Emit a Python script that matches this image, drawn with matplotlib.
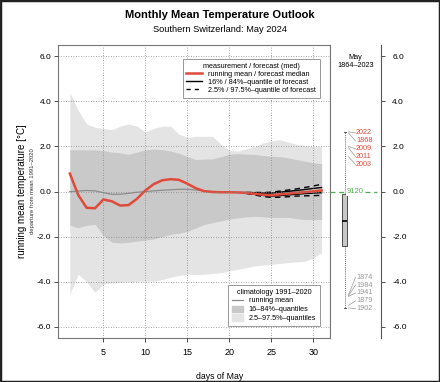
import numpy as np
import matplotlib.pyplot as plt
from matplotlib.patches import Rectangle
from matplotlib.lines import Line2D
from matplotlib.patches import Patch

plt.rcParams['font.family'] = ['Liberation Sans', 'DejaVu Sans']

days = np.arange(1, 32)

# climatology 1991-2020 (departure from mean)
clim_q975 = [4.4, 3.6, 3.0, 2.85, 2.8, 2.75, 2.9, 3.0, 2.9, 2.65, 2.8, 2.9, 2.9, 2.55, 2.4, 2.45,
             2.45, 2.45, 2.1, 1.85, 1.8, 1.9, 2.0, 2.15, 2.25, 2.3, 2.2, 2.1, 2.05, 2.0, 2.0]
clim_q84 = [1.86, 1.86, 1.85, 1.85, 1.82, 1.75, 1.72, 1.65, 1.75, 1.85, 1.88, 1.86, 1.8, 1.7, 1.55, 1.42,
            1.44, 1.45, 1.55, 1.66, 1.68, 1.66, 1.65, 1.6, 1.57, 1.55, 1.5, 1.42, 1.35, 1.28, 1.24]
clim_q16 = [-1.5, -1.6, -1.5, -1.45, -1.95, -2.25, -2.28, -2.25, -2.2, -2.15, -2.1, -2.0, -1.9, -1.85, -1.77, -1.62,
            -1.46, -1.38, -1.3, -1.22, -1.17, -1.12, -1.1, -1.12, -1.15, -1.15, -1.15, -1.2, -1.24, -1.24, -1.24]
clim_q025 = [-4.55, -3.67, -4.0, -4.47, -4.1, -4.05, -4.03, -4.0, -3.98, -3.98, -3.98, -3.9, -3.8, -3.72, -3.67, -3.67,
             -3.67, -3.63, -3.6, -3.52, -3.45, -3.38, -3.3, -3.26, -3.23, -3.19, -3.15, -3.12, -3.1, -2.95, -2.7]
clim_mean = [0.0, 0.02, 0.05, 0.03, -0.05, -0.12, -0.12, -0.08, -0.03, 0.0, 0.03, 0.06, 0.08, 0.1, 0.1, 0.07,
             0.03, 0.0, -0.02, -0.03, -0.03, -0.03, -0.04, -0.05, -0.05, -0.04, -0.03, -0.02, -0.01, 0.0, 0.0]

# running mean / forecast median
run_mean = [0.8, -0.15, -0.72, -0.74, -0.35, -0.43, -0.62, -0.6, -0.32, 0.05, 0.33, 0.5, 0.55, 0.52, 0.35, 0.15,
            0.02, -0.02, -0.03, -0.03, -0.04, -0.06, -0.1, -0.14, -0.16, -0.13, -0.09, -0.06, -0.03, 0.01, 0.05]

# forecast quantiles
fc_days = np.arange(22, 32)
fc_q975 = [-0.04, -0.04, -0.04, -0.03, 0.02, 0.07, 0.12, 0.18, 0.25, 0.32]
fc_q84 = [-0.05, -0.06, -0.07, -0.07, -0.03, 0.01, 0.05, 0.09, 0.14, 0.18]
fc_q16 = [-0.07, -0.12, -0.17, -0.2, -0.18, -0.15, -0.12, -0.09, -0.07, -0.05]
fc_q025 = [-0.08, -0.15, -0.22, -0.26, -0.25, -0.23, -0.2, -0.19, -0.18, -0.17]

# May 1864-2023 distribution
box_stats = dict(med=-1.32, q1=-2.42, q3=-0.09, whislo=-5.16, whishi=2.65)
warm_years = ['2022', '1868', '2009', '2011', '2003']
warm_vals = [2.65, 2.6, 2.0, 1.95, 1.55]
cold_years = ['1874', '1984', '1941', '1879', '1902']
cold_vals = [-4.6, -4.62, -4.65, -5.05, -5.16]
current_label = '9120'

red = '#df4a3b'
light = '#e4e4e4'
dark = '#c9c9c9'
yticks = [-6, -4, -2, 0, 2, 4, 6]

fig = plt.figure(figsize=(4.4, 3.82), dpi=100)
fig.patches.append(Rectangle((0, 0), 1, 1, transform=fig.transFigure, fill=False,
                             edgecolor='#222222', linewidth=2.5))

ax = fig.add_axes([0.132, 0.115, 0.618, 0.767])
ax.fill_between(days, clim_q025, clim_q975, color=light, lw=0)
ax.fill_between(days, clim_q16, clim_q84, color=dark, lw=0)
ax.plot(days, clim_mean, color='#8c8c8c', lw=0.9)
ax.plot(fc_days, fc_q975, color='black', lw=1.0, ls=(0, (4, 3)))
ax.plot(fc_days, fc_q025, color='black', lw=1.0, ls=(0, (4, 3)))
ax.plot(fc_days, fc_q84, color='black', lw=1.0)
ax.plot(fc_days, fc_q16, color='black', lw=1.0)
ax.plot(days, run_mean, color=red, lw=1.8)

ax.set_xlim(-0.4, 32)
ax.set_ylim(-6.5, 6.5)
ax.set_xticks([5, 10, 15, 20, 25, 30])
ax.set_yticks(yticks)
ax.set_yticklabels(['%.1f' % v for v in yticks])
ax.grid(True, color='#888888', ls=(0, (1, 2)), lw=0.6)
ax.set_axisbelow(False)
for s in ax.spines.values():
    s.set_color('#777777')
    s.set_linewidth(0.8)
ax.tick_params(labelsize=6, length=3, width=0.6, color='#333333', pad=2)
ax.tick_params(axis='x', labelsize=6.5, pad=4)
ax.set_xlabel('days of May', fontsize=6.3)
ax.xaxis.set_label_coords(0.595, -0.115)
ax.set_ylabel('running mean temperature [°C]', fontsize=7, labelpad=7)
fig.text(0.073, 0.5, 'departure from mean 1991–2020', rotation=90, fontsize=4.2,
         ha='center', va='center', color='#333333')

leg1 = ax.legend(handles=[Line2D([], [], color=red, lw=1.8),
                          Line2D([], [], color='black', lw=1.0),
                          Line2D([], [], color='black', lw=1.0, ls=(0, (3, 3)))],
                 labels=['running mean / forecast median', '16% / 84%–quantile of forecast',
                         '2.5% / 97.5%–quantile of forecast'],
                 title='measurement / forecast (med)', loc='upper right',
                 bbox_to_anchor=(0.975, 0.965), fontsize=5.2, title_fontsize=5.2,
                 fancybox=False, edgecolor='#888888', framealpha=1, handlelength=2.2,
                 handletextpad=0.8, borderpad=0.5, labelspacing=0.15)
leg1.get_frame().set_linewidth(0.6)
ax.add_artist(leg1)

leg2 = ax.legend(handles=[Line2D([], [], color='#8c8c8c', lw=0.9),
                          Patch(color=dark), Patch(color=light)],
                 labels=['running mean', '16–84%–quantiles', '2.5–97.5%–quantiles'],
                 title='climatology 1991–2020', loc='lower right',
                 bbox_to_anchor=(0.975, 0.03), fontsize=5.2, title_fontsize=5.2,
                 fancybox=False, edgecolor='#888888', framealpha=1, handlelength=1.5,
                 handleheight=1.0, handletextpad=0.8, borderpad=0.5, labelspacing=0.15)
leg2.get_frame().set_linewidth(0.6)

# right panel: distribution of May means
ax2 = fig.add_axes([0.75, 0.115, 0.116, 0.767])
ax2.set_xlim(0, 1)
ax2.set_ylim(-6.5, 6.5)
ax2.bxp([box_stats], positions=[0.29], widths=0.1, showfliers=False, patch_artist=True,
        boxprops=dict(facecolor='#c8c8c8', edgecolor='#333333', linewidth=0.6),
        medianprops=dict(color='black', linewidth=1.2),
        whiskerprops=dict(color='#333333', linewidth=0.6, ls=(0, (1, 1.5))),
        capprops=dict(color='#333333', linewidth=0.6), capwidths=0.04)
ax2.axhline(0, xmin=0.0, xmax=0.93, color='#4caf50', lw=0.9, ls=(0, (4, 3)))
ax2.text(0.5, 0, current_label, color='#4caf50', fontsize=5.5, ha='center', va='center',
         bbox=dict(facecolor='white', edgecolor='none', pad=0.6))
step = 0.35
for i, (yr, v) in enumerate(zip(warm_years, warm_vals)):
    ly = 2.6 - i * step
    ax2.plot([0.36, 0.5], [v, ly], color='#999999', lw=0.5)
    ax2.text(0.51, ly, yr, color=red, fontsize=5.2, va='center', ha='left')
for i, (yr, v) in enumerate(zip(cold_years, cold_vals)):
    ly = -3.8 - i * step
    ax2.plot([0.36, 0.5], [v, ly], color='#999999', lw=0.5)
    ax2.text(0.51, ly, yr, color='#999999', fontsize=5.2, va='center', ha='left')
ax2.text(0.5, 5.78, 'May\n1864–2023', fontsize=5.2, ha='center', va='center', linespacing=1.3)

ax2.set_xticks([])
ax2.yaxis.tick_right()
ax2.set_yticks(yticks)
ax2.set_yticklabels(['%.1f' % v for v in yticks])
ax2.tick_params(labelsize=6, length=3, width=0.6, color='#333333', pad=5)
for side in ['top', 'bottom']:
    ax2.spines[side].set_visible(False)
ax2.spines['left'].set_color('#777777')
ax2.spines['left'].set_linewidth(0.8)
ax2.spines['right'].set_color('#555555')
ax2.spines['right'].set_linewidth(0.8)

fig.text(0.5, 0.962, 'Monthly Mean Temperature Outlook', fontsize=8, fontweight='bold',
         ha='center', va='center')
fig.text(0.5, 0.922, 'Southern Switzerland: May 2024', fontsize=6.7, ha='center', va='center')

fig.savefig('out.png', dpi=100)
